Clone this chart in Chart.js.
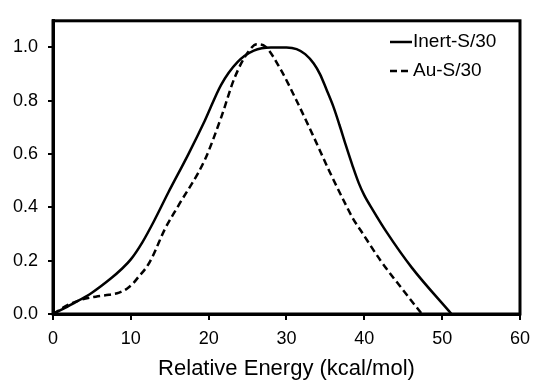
<!DOCTYPE html>
<html>
<head>
<meta charset="utf-8">
<script src="https://cdn.jsdelivr.net/npm/chart.js@4/dist/chart.umd.min.js"></script>
<style>
  html, body { margin: 0; padding: 0; background: #fff; }
  #wrap { width: 538px; height: 382px; position: relative; }
</style>
</head>
<body>
<div id="wrap"><canvas id="c" width="538" height="382"></canvas></div>
<script>
// ---- Data ----
const seriesNames = ["Inert-S/30", "Au-S/30"];
const inertX = [0, 2.5, 5, 7.5, 8.75, 10, 11.5, 13, 14.8, 17.4, 19.5, 21.6, 23.7, 25.8, 28, 30, 31.3, 32.4, 33.5, 34.3, 35.1, 36, 36.8, 37.6, 38.5, 39.3, 40, 41.1, 42.8, 46.1, 51.2];
const inertY = [0, 0.038, 0.08, 0.135, 0.167, 0.205, 0.27, 0.35, 0.455, 0.60, 0.725, 0.86, 0.945, 0.988, 1.0, 1.0, 0.994, 0.975, 0.94, 0.90, 0.845, 0.78, 0.71, 0.635, 0.555, 0.49, 0.445, 0.39, 0.31, 0.174, 0];
const auX = [0, 2, 3.8, 5.5, 7.2, 8.5, 9.5, 10.3, 11, 12, 12.7, 14.4, 16.1, 19.5, 21.6, 23.3, 25, 26.2, 27.3, 29.2, 31.3, 33.5, 35.6, 37.7, 38.6, 39.5, 42.1, 44.7, 47.4];
const auY = [0, 0.035, 0.055, 0.065, 0.072, 0.08, 0.095, 0.115, 0.14, 0.175, 0.21, 0.32, 0.406, 0.578, 0.737, 0.884, 0.98, 1.012, 1.003, 0.92, 0.80, 0.664, 0.53, 0.405, 0.355, 0.315, 0.2, 0.1, 0];
const xTicks = [0, 10, 20, 30, 40, 50, 60];
const yTicks = [0, 0.2, 0.4, 0.6, 0.8, 1.0];
const xTitle = "Relative Energy (kcal/mol)";

const FONT = "'Liberation Sans', Arial, Helvetica, sans-serif";

function pts(xs, ys) { return xs.map((x, i) => ({ x: x, y: ys[i] })); }

const frame = {
  id: 'frame',
  afterDatasetsDraw(chart) {
    const { ctx, chartArea: a } = chart;
    ctx.save();
    ctx.strokeStyle = '#000';
    ctx.lineWidth = 3;
    ctx.strokeRect(a.left, a.top, a.right - a.left, a.bottom - a.top);
    ctx.restore();
  }
};

const legendInside = {
  id: 'legendInside',
  afterDraw(chart) {
    const { ctx } = chart;
    ctx.save();
    ctx.font = '19px ' + FONT;
    ctx.fillStyle = '#000';
    ctx.textBaseline = 'middle';
    ctx.textAlign = 'left';
    const rows = [42, 71];
    chart.data.datasets.forEach((ds, i) => {
      const y = rows[i];
      ctx.strokeStyle = '#000';
      ctx.lineWidth = 2.5;
      ctx.setLineDash(ds.borderDash || []);
      ctx.beginPath();
      ctx.moveTo(390, y);
      ctx.lineTo(412, y);
      ctx.stroke();
      ctx.setLineDash([]);
      ctx.fillText(ds.label, 413, y);
    });
    ctx.restore();
  }
};

new Chart(document.getElementById('c'), {
  type: 'line',
  data: {
    datasets: [
      {
        label: seriesNames[0],
        data: pts(inertX, inertY),
        borderColor: '#000',
        borderWidth: 2.5,
        pointRadius: 0,
        cubicInterpolationMode: 'monotone',
        fill: false
      },
      {
        label: seriesNames[1],
        data: pts(auX, auY),
        borderColor: '#000',
        borderWidth: 2.5,
        borderDash: [7, 4],
        pointRadius: 0,
        cubicInterpolationMode: 'monotone',
        fill: false
      }
    ]
  },
  options: {
    responsive: false,
    animation: false,
    devicePixelRatio: 1,
    layout: { padding: { top: 15, right: 12, left: 0, bottom: 0 } },
    plugins: { legend: { display: false }, tooltip: { enabled: false } },
    scales: {
      x: {
        type: 'linear',
        min: 0, max: 60,
        afterBuildTicks(s) { s.ticks = xTicks.map(v => ({ value: v })); },
        afterFit(s) { s.height = 68; },
        grid: { drawOnChartArea: false, drawTicks: true, tickLength: 6, color: '#000', lineWidth: 2 },
        border: { display: true, color: '#000', width: 3 },
        ticks: { color: '#000', font: { size: 18, family: FONT }, padding: 8, maxRotation: 0 },
        title: { display: true, text: xTitle, color: '#000', font: { size: 22, family: FONT }, padding: { top: 0, bottom: 0 } }
      },
      y: {
        type: 'linear',
        min: 0, max: 1.1,
        afterBuildTicks(s) { s.ticks = yTicks.map(v => ({ value: v })); },
        afterFit(s) { s.width = 53; },
        grid: { drawOnChartArea: false, drawTicks: true, tickLength: 5, color: '#000', lineWidth: 2 },
        border: { display: true, color: '#000', width: 3 },
        ticks: { color: '#000', font: { size: 18, family: FONT }, padding: 10, callback: v => Number(v).toFixed(1) }
      }
    }
  },
  plugins: [frame, legendInside]
});
</script>
</body>
</html>
